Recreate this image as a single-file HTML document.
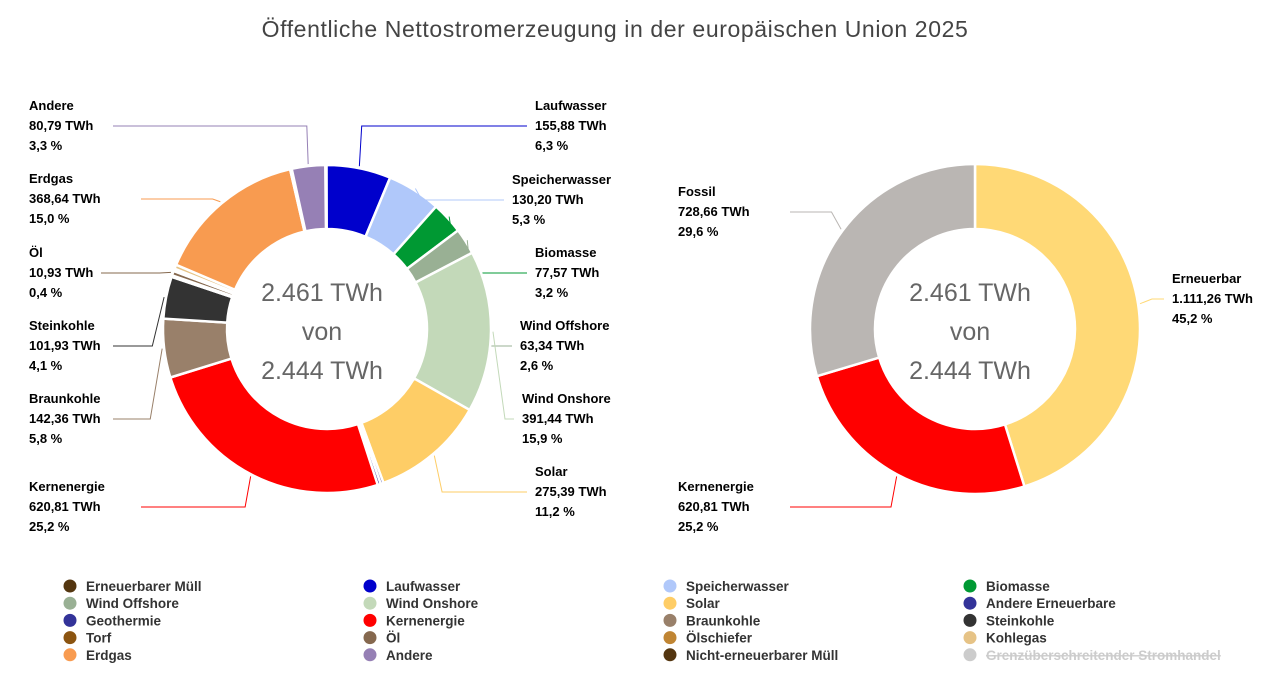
<!DOCTYPE html>
<html><head><meta charset="utf-8"><style>
html,body{margin:0;padding:0;background:#fff;width:1280px;height:689px;overflow:hidden}
svg{display:block}
text{font-family:"Liberation Sans",sans-serif}
.lb{font-size:13px;font-weight:bold;fill:#000}
.lg{font-size:13.5px;font-weight:bold;fill:#333}
.ct{font-size:25px;fill:#666}
</style></head><body>
<svg id="chart" width="1280" height="689">
<text x="615" y="37" text-anchor="middle" font-size="23" letter-spacing="0.6" fill="#444">Öffentliche Nettostromerzeugung in der europäischen Union 2025</text>
<g id="left"></g><g id="right"></g><g id="legend"></g>
</svg>
<script>
const sources = ["Erneuerbarer Müll","Laufwasser","Speicherwasser","Biomasse","Wind Offshore","Wind Onshore","Solar","Andere Erneuerbare","Geothermie","Kernenergie","Braunkohle","Steinkohle","Torf","Öl","Ölschiefer","Kohlegas","Erdgas","Nicht-erneuerbarer Müll","Andere"];
const values = [3,155.88,130.20,77.57,63.34,391.44,275.39,7,7.44,620.81,142.36,101.93,4,10.93,6,10,368.64,4,80.79];
const valueLabels = ["","155,88 TWh","130,20 TWh","77,57 TWh","63,34 TWh","391,44 TWh","275,39 TWh","","","620,81 TWh","142,36 TWh","101,93 TWh","","10,93 TWh","","","368,64 TWh","","80,79 TWh"];
const pctLabels = ["","6,3 %","5,3 %","3,2 %","2,6 %","15,9 %","11,2 %","","","25,2 %","5,8 %","4,1 %","","0,4 %","","","15,0 %","","3,3 %"];
const groups = ["Erneuerbar","Kernenergie","Fossil"];
const groupValues = [1111.26,620.81,728.66];
const groupValueLabels = ["1.111,26 TWh","620,81 TWh","728,66 TWh"];
const groupPctLabels = ["45,2 %","25,2 %","29,6 %"];
const legendItems = ["Erneuerbarer Müll","Laufwasser","Speicherwasser","Biomasse","Wind Offshore","Wind Onshore","Solar","Andere Erneuerbare","Geothermie","Kernenergie","Braunkohle","Steinkohle","Torf","Öl","Ölschiefer","Kohlegas","Erdgas","Andere","Nicht-erneuerbarer Müll","Grenzüberschreitender Stromhandel"];
const centerLines = ["2.461 TWh","von","2.444 TWh"];

const colorMap = {"Erneuerbarer Müll":"#543610","Laufwasser":"#0000cc","Speicherwasser":"#b0c8fa","Biomasse":"#009933","Wind Offshore":"#99b094","Wind Onshore":"#c3d9b9","Solar":"#fecd66","Andere Erneuerbare":"#333399","Geothermie":"#333399","Kernenergie":"#ff0000","Braunkohle":"#99806a","Steinkohle":"#333333","Torf":"#8b5410","Öl":"#85684e","Ölschiefer":"#c08533","Kohlegas":"#e6c386","Erdgas":"#f89b50","Nicht-erneuerbarer Müll":"#543610","Andere":"#9680b5","Grenzüberschreitender Stromhandel":"#cccccc","Erneuerbar":"#ffd976","Fossil":"#bab6b3"};
const labelPos = {"Laufwasser":[535,105,1],"Speicherwasser":[512,179,1],"Biomasse":[535,252,1],"Wind Offshore":[520,325,1],"Wind Onshore":[522,398,1],"Solar":[535,471,1],"Kernenergie":[29,486,-1],"Braunkohle":[29,398,-1],"Steinkohle":[29,325,-1],"Öl":[29,252,-1],"Erdgas":[29,178,-1],"Andere":[29,105,-1],"Erneuerbar":[1172,278,1],"Fossil":[678,191,-1]};
const labelPos2 = {"Kernenergie":[678,486,-1]};
const NS="http://www.w3.org/2000/svg";
function mk(tag,attrs,parent){const e=document.createElementNS(NS,tag);for(const k in attrs)e.setAttribute(k,attrs[k]);parent.appendChild(e);return e;}
function pt(cx,cy,r,a){const t=a*Math.PI/180;return [cx+r*Math.sin(t),cy-r*Math.cos(t)];}
function arc(cx,cy,R,r,a0,a1){
  const large=(a1-a0)>180?1:0;const p0=pt(cx,cy,R,a0),p1=pt(cx,cy,R,a1),p2=pt(cx,cy,r,a1),p3=pt(cx,cy,r,a0);
  return `M${p0[0]},${p0[1]}A${R},${R} 0 ${large} 1 ${p1[0]},${p1[1]}L${p2[0]},${p2[1]}A${r},${r} 0 ${large} 0 ${p3[0]},${p3[1]}Z`;
}
function donut(g,cx,cy,R,r,names,vals,vl,pl,start,pos){
  const tot=vals.reduce((a,b)=>a+b,0);let a=start;
  names.forEach((n,i)=>{
    const sweep=vals[i]/tot*360;const a1=a+sweep;
    const p=mk('path',{d:arc(cx,cy,R,r,a,a1),fill:colorMap[n],stroke:'#fff','stroke-width':2.5,'stroke-linejoin':'round'},g);
    
    
    const lp=pos[n];
    if(lp && vl[i]){
      const mid=(a+a1)/2;const [px,py]=pt(cx,cy,R+2,mid);
      const side=lp[2];const ly=lp[1]+21;
      const lx=side>0?lp[0]-8:lp[0]+(n==="Öl"?72:(n==="Erdgas"||n==="Kernenergie"||n==="Fossil")?112:84);
      const [ex0]=pt(cx,cy,R+14,mid);
      const ln=mk('polyline',{points:`${lx},${ly} ${ex0},${ly} ${px},${py}`,fill:'none',stroke:colorMap[n],'stroke-width':1},g);
      
      
      const t=mk('text',{class:'lb',x:lp[0],y:lp[1]+5},g);
      
      
      [n,vl[i],pl[i]].forEach((s,k)=>{const ts=mk('tspan',{x:lp[0],dy:k?20:0},t);ts.textContent=s;});
    }
    a=a1;
  });
  const ct=mk('text',{class:'ct','text-anchor':'middle',x:cx-5,y:cy-28},g);
  
  
  centerLines.forEach((s,k)=>{const ts=mk('tspan',{x:cx-5,dy:k?39:0},ct);ts.textContent=s;});
}
donut(document.getElementById('left'),327,329,164,100,sources,values,valueLabels,pctLabels,-0.6,labelPos);
const rpos=Object.assign({},labelPos,labelPos2);
donut(document.getElementById('right'),975,329,165,100,groups,groupValues,groupValueLabels,groupPctLabels,0,rpos);
const lg=document.getElementById('legend');
legendItems.forEach((n,i)=>{
  const col=i%4,row=Math.floor(i/4);const x=70+col*300,y=586+row*17.2;
  const g=mk('g',{},lg);
  
  
  mk('circle',{cx:x,cy:y,r:6.5,fill:colorMap[n]},g);
  const t=mk('text',{class:'lg',x:x+16,y:y+5},g);t.textContent=n;
  if(n==="Grenzüberschreitender Stromhandel"){t.setAttribute('style','fill:#ccc;text-decoration:line-through');}
});
</script>
</body></html>
